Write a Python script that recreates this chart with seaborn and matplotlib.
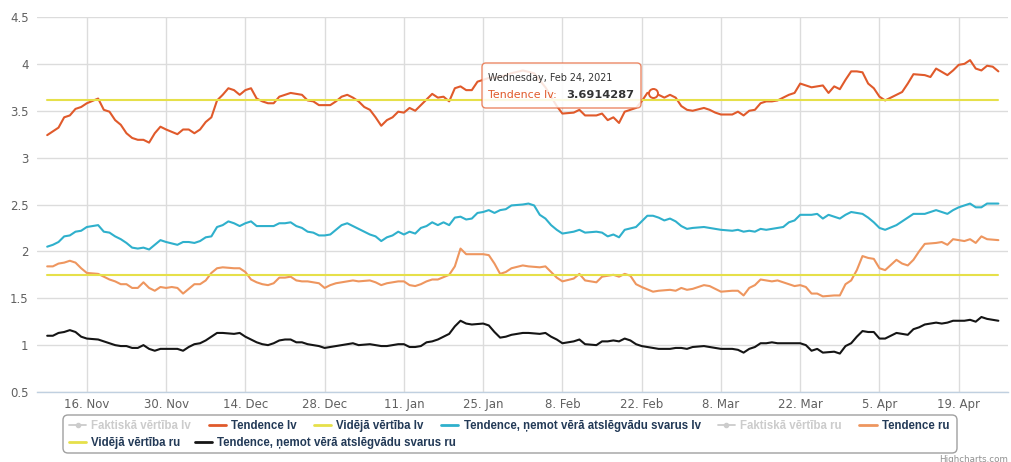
import numpy as np
import pandas as pd
import matplotlib
matplotlib.use('Agg')
import matplotlib.pyplot as plt
from matplotlib.lines import Line2D
from matplotlib.patches import FancyBboxPatch
from matplotlib.transforms import IdentityTransform
from matplotlib.ticker import FuncFormatter
import seaborn as sns

# days are counted from the first point, 9 Nov 2020
start = pd.Timestamp('2020-11-09')

lv_days = [0, 2, 3, 4, 5, 6, 7, 9, 10, 11,
           12, 13, 14, 15, 16, 17, 18, 19, 20, 21,
           23, 24, 25, 26, 27, 28, 29, 30, 31, 32,
           33, 34, 35, 36, 37, 38, 39, 40, 41, 42,
           43, 44, 45, 46, 47, 48, 49, 50, 51, 52,
           53, 54, 55, 56, 57, 58, 59, 60, 61, 62,
           63, 64, 65, 66, 67, 68, 69, 70, 71, 72,
           73, 74, 75, 76, 78, 80, 82, 84, 86, 88,
           90, 91, 93, 94, 95, 97, 98, 99, 100, 101,
           102, 104, 105, 106, 107, 108, 109, 110, 111, 112,
           113, 114, 116, 117, 118, 119, 121, 122, 123, 124,
           125, 126, 127, 128, 129, 131, 132, 133, 135, 136,
           137, 138, 139, 140, 141, 142, 143, 144, 145, 146,
           147, 148, 150, 151, 152, 153, 155, 156, 157, 159,
           160, 161, 162, 163, 164, 165, 166, 167, 168]
trend_lv = [3.24, 3.32, 3.43, 3.45, 3.52, 3.54, 3.58, 3.63, 3.51, 3.49,
            3.40, 3.35, 3.26, 3.21, 3.19, 3.19, 3.16, 3.26, 3.33, 3.30,
            3.25, 3.30, 3.30, 3.26, 3.30, 3.38, 3.43, 3.61, 3.67, 3.74,
            3.72, 3.67, 3.72, 3.74, 3.63, 3.60, 3.58, 3.58, 3.65, 3.67,
            3.69, 3.68, 3.67, 3.61, 3.60, 3.56, 3.56, 3.56, 3.60, 3.65,
            3.67, 3.64, 3.60, 3.54, 3.51, 3.43, 3.34, 3.40, 3.43, 3.49,
            3.48, 3.53, 3.50, 3.56, 3.62, 3.68, 3.64, 3.65, 3.60, 3.74,
            3.76, 3.72, 3.72, 3.81, 3.85, 3.86, 3.90, 3.93, 3.90, 3.75,
            3.55, 3.47, 3.48, 3.51, 3.45, 3.45, 3.47, 3.40, 3.43, 3.37,
            3.49, 3.53, 3.60, 3.69, 3.69, 3.67, 3.64, 3.67, 3.64, 3.55,
            3.51, 3.50, 3.53, 3.51, 3.48, 3.46, 3.46, 3.49, 3.45, 3.50,
            3.51, 3.58, 3.60, 3.60, 3.61, 3.67, 3.69, 3.79, 3.75, 3.76,
            3.77, 3.69, 3.76, 3.73, 3.83, 3.92, 3.92, 3.91, 3.79, 3.74,
            3.65, 3.61, 3.67, 3.70, 3.79, 3.89, 3.88, 3.86, 3.95, 3.88,
            3.93, 3.99, 4.00, 4.04, 3.95, 3.93, 3.98, 3.97, 3.92]

w_days = [0, 1, 2, 3, 4, 5, 6, 7, 9, 10,
          11, 12, 13, 14, 15, 16, 17, 18, 19, 20,
          21, 23, 24, 25, 26, 27, 28, 29, 30, 31,
          32, 33, 34, 35, 36, 37, 38, 39, 40, 41,
          42, 43, 44, 45, 46, 47, 48, 49, 50, 51,
          52, 53, 54, 55, 56, 57, 58, 59, 60, 61,
          62, 63, 64, 65, 66, 67, 68, 69, 70, 71,
          72, 73, 74, 75, 76, 77, 78, 79, 80, 81,
          82, 84, 85, 86, 87, 88, 89, 90, 91, 93,
          94, 95, 97, 98, 99, 100, 101, 102, 104, 105,
          106, 107, 108, 109, 110, 111, 112, 113, 114, 116,
          117, 118, 119, 121, 122, 123, 124, 125, 126, 127,
          128, 130, 131, 132, 133, 135, 136, 137, 138, 140,
          141, 142, 143, 144, 145, 146, 147, 148, 150, 151,
          152, 153, 155, 156, 157, 159, 160, 161, 163, 164,
          165, 166, 167, 168]
weighted_lv = [2.05, 2.07, 2.10, 2.16, 2.17, 2.21, 2.22, 2.26, 2.28, 2.21,
               2.20, 2.16, 2.13, 2.09, 2.04, 2.03, 2.04, 2.02, 2.07, 2.12,
               2.10, 2.07, 2.10, 2.10, 2.09, 2.11, 2.15, 2.16, 2.26, 2.28,
               2.32, 2.30, 2.27, 2.30, 2.32, 2.27, 2.27, 2.27, 2.27, 2.30,
               2.30, 2.31, 2.27, 2.25, 2.21, 2.20, 2.17, 2.17, 2.18, 2.23,
               2.28, 2.30, 2.27, 2.24, 2.21, 2.18, 2.16, 2.11, 2.15, 2.17,
               2.21, 2.18, 2.21, 2.19, 2.25, 2.27, 2.31, 2.28, 2.31, 2.28,
               2.36, 2.37, 2.34, 2.35, 2.41, 2.42, 2.44, 2.41, 2.44, 2.45,
               2.49, 2.50, 2.51, 2.49, 2.39, 2.35, 2.28, 2.23, 2.19, 2.21,
               2.23, 2.20, 2.21, 2.20, 2.16, 2.18, 2.15, 2.23, 2.26, 2.32,
               2.38, 2.38, 2.36, 2.33, 2.35, 2.32, 2.27, 2.24, 2.25, 2.26,
               2.25, 2.24, 2.23, 2.22, 2.23, 2.21, 2.22, 2.21, 2.24, 2.23,
               2.24, 2.26, 2.31, 2.33, 2.39, 2.39, 2.40, 2.35, 2.39, 2.35,
               2.39, 2.42, 2.41, 2.40, 2.36, 2.31, 2.25, 2.23, 2.28, 2.32,
               2.36, 2.40, 2.40, 2.42, 2.44, 2.40, 2.44, 2.47, 2.51, 2.47,
               2.47, 2.51, 2.51, 2.51]

ru_days = [0, 1, 2, 3, 4, 5, 6, 7, 9, 10,
           11, 12, 13, 14, 15, 16, 17, 18, 19, 20,
           21, 22, 23, 24, 25, 26, 27, 28, 29, 30,
           31, 33, 34, 35, 36, 37, 38, 39, 40, 41,
           42, 43, 44, 45, 46, 48, 49, 50, 51, 53,
           54, 55, 57, 58, 59, 60, 62, 63, 64, 65,
           66, 67, 68, 69, 71, 72, 73, 74, 75, 77,
           78, 79, 80, 81, 82, 84, 85, 87, 88, 89,
           90, 91, 93, 94, 95, 97, 98, 99, 100, 101,
           102, 103, 104, 105, 107, 108, 110, 111, 112, 113,
           114, 116, 117, 118, 119, 121, 122, 123, 124, 125,
           126, 127, 128, 129, 130, 132, 133, 134, 135, 136,
           137, 139, 140, 141, 142, 143, 144, 145, 146, 147,
           148, 150, 151, 152, 153, 154, 155, 157, 158, 159,
           160, 161, 162, 163, 164, 165, 166, 168]
trend_ru = [1.84, 1.84, 1.87, 1.88, 1.90, 1.88, 1.82, 1.77, 1.76, 1.73,
            1.70, 1.68, 1.65, 1.65, 1.61, 1.61, 1.67, 1.61, 1.58, 1.62,
            1.61, 1.62, 1.61, 1.55, 1.60, 1.65, 1.65, 1.69, 1.77, 1.82,
            1.83, 1.82, 1.82, 1.78, 1.70, 1.67, 1.65, 1.64, 1.66, 1.72,
            1.72, 1.73, 1.69, 1.68, 1.68, 1.66, 1.61, 1.64, 1.66, 1.68,
            1.69, 1.68, 1.69, 1.67, 1.64, 1.66, 1.68, 1.68, 1.64, 1.63,
            1.65, 1.68, 1.70, 1.70, 1.75, 1.84, 2.03, 1.97, 1.97, 1.97,
            1.96, 1.87, 1.76, 1.78, 1.82, 1.85, 1.84, 1.83, 1.84, 1.78,
            1.72, 1.68, 1.71, 1.76, 1.69, 1.67, 1.73, 1.74, 1.75, 1.73,
            1.76, 1.74, 1.65, 1.62, 1.57, 1.58, 1.59, 1.58, 1.61, 1.59,
            1.60, 1.64, 1.63, 1.60, 1.57, 1.58, 1.58, 1.53, 1.61, 1.64,
            1.70, 1.69, 1.68, 1.69, 1.67, 1.63, 1.64, 1.62, 1.55, 1.55,
            1.52, 1.53, 1.53, 1.65, 1.69, 1.80, 1.95, 1.93, 1.92, 1.82,
            1.80, 1.91, 1.87, 1.85, 1.91, 2.00, 2.08, 2.09, 2.10, 2.07,
            2.13, 2.12, 2.11, 2.13, 2.09, 2.16, 2.13, 2.12]
weighted_ru = [1.10, 1.10, 1.13, 1.14, 1.16, 1.14, 1.09, 1.07, 1.06, 1.04,
               1.02, 1.00, 0.99, 0.99, 0.97, 0.97, 1.00, 0.96, 0.94, 0.96,
               0.96, 0.96, 0.96, 0.94, 0.98, 1.01, 1.02, 1.05, 1.09, 1.13,
               1.13, 1.12, 1.13, 1.09, 1.06, 1.03, 1.01, 1.00, 1.02, 1.05,
               1.06, 1.06, 1.03, 1.03, 1.01, 0.99, 0.97, 0.98, 0.99, 1.01,
               1.02, 1.00, 1.01, 1.00, 0.99, 0.99, 1.01, 1.01, 0.98, 0.98,
               0.99, 1.03, 1.04, 1.06, 1.12, 1.20, 1.26, 1.23, 1.22, 1.23,
               1.21, 1.14, 1.08, 1.09, 1.11, 1.13, 1.13, 1.12, 1.13, 1.09,
               1.06, 1.02, 1.04, 1.06, 1.01, 1.00, 1.04, 1.04, 1.05, 1.04,
               1.07, 1.05, 1.01, 0.99, 0.97, 0.96, 0.96, 0.97, 0.97, 0.96,
               0.98, 0.99, 0.98, 0.97, 0.96, 0.96, 0.95, 0.92, 0.96, 0.98,
               1.02, 1.02, 1.03, 1.02, 1.02, 1.02, 1.02, 1.00, 0.94, 0.96,
               0.92, 0.93, 0.91, 0.99, 1.02, 1.09, 1.15, 1.14, 1.14, 1.07,
               1.07, 1.13, 1.12, 1.11, 1.17, 1.19, 1.22, 1.24, 1.23, 1.24,
               1.26, 1.26, 1.26, 1.27, 1.25, 1.30, 1.28, 1.26]

mean_lv = 3.62
mean_ru = 1.75

tip_day = 107
tip_value = 3.6914287

y_ticks = [0.5, 1, 1.5, 2, 2.5, 3, 3.5, 4, 4.5]
tick_dates = pd.date_range('2020-11-16', periods=12, freq='14D')

labels = ['Faktiskā vērtība lv', 'Tendence lv', 'Vidējā vērtība lv',
          'Tendence, ņemot vērā atslēgvādu svarus lv', 'Faktiskā vērtība ru',
          'Tendence ru', 'Vidējā vērtība ru',
          'Tendence, ņemot vērā atslēgvādu svarus ru']
hidden = [True, False, False, False, True, False, False, False]

c_red = '#e05a2b'
c_yel = '#e6e04a'
c_cyan = '#2fb0cc'
c_orng = '#ee965f'
c_blk = '#151515'
c_off = '#cccccc'
colors = [c_off, c_red, c_yel, c_cyan, c_off, c_orng, c_yel, c_blk]


def to_dates(days):
    return start + pd.to_timedelta(days, unit='D')


W, H = 1011, 462


def fx(x):
    return x / W


def fy(y):
    return 1 - y / H


sns.set_theme(style='white')
plt.rcParams['font.family'] = ['DejaVu Sans']

fig = plt.figure(figsize=(W / 100, H / 100), dpi=100)
ax = fig.add_axes([fx(37), fy(392), fx(1008) - fx(37), fy(17) - fy(392)])

lw = 1.5
kw = dict(ax=ax, linewidth=lw, legend=False, solid_joinstyle='round', solid_capstyle='round')

sns.lineplot(x=to_dates(lv_days), y=trend_lv, color=c_red, **kw)
end_days = [0, 168]
sns.lineplot(x=to_dates(end_days), y=[mean_lv] * 2, color=c_yel, **kw)
sns.lineplot(x=to_dates(w_days), y=weighted_lv, color=c_cyan, **kw)
sns.lineplot(x=to_dates(ru_days), y=trend_ru, color=c_orng, **kw)
sns.lineplot(x=to_dates(end_days), y=[mean_ru] * 2, color=c_yel, **kw)
sns.lineplot(x=to_dates(ru_days), y=weighted_ru, color=c_blk, **kw)

# hover marker on the tooltip point
ax.plot(to_dates([tip_day]), [tip_value], 'o', ms=6.5, mfc='white', mec=c_red, mew=1.4, zorder=5)

ax.set_xlim(start - pd.Timedelta(days=1.8), start + pd.Timedelta(days=169.7))
ax.set_ylim(0.5, 4.5)
ax.set_yticks(y_ticks)
ax.set_xticks(tick_dates)
ax.xaxis.set_major_formatter(FuncFormatter(
    lambda v, p: '{}. {}'.format(matplotlib.dates.num2date(v).day,
                                 matplotlib.dates.num2date(v).strftime('%b'))))
ax.yaxis.set_major_formatter(FuncFormatter(lambda v, p: '{:g}'.format(v)))
ax.grid(True, color='#dcdcdc', linewidth=1)
ax.set_axisbelow(True)
for s in ['top', 'left', 'right']:
    ax.spines[s].set_visible(False)
ax.spines['bottom'].set_color('#c0d0e0')
ax.spines['bottom'].set_linewidth(1)
ax.tick_params(axis='both', length=0, labelsize=8.5, labelcolor='#606060')
ax.tick_params(axis='x', pad=4)
ax.tick_params(axis='y', pad=6)
ax.set_xlabel('')
ax.set_ylabel('')

# tooltip
tip_box = FancyBboxPatch((482, H - 108), 159, 45, boxstyle='round,pad=0,rounding_size=4',
                         transform=IdentityTransform(), facecolor='white', alpha=0.85,
                         edgecolor='#e8734a', linewidth=1, zorder=10)
fig.patches.append(tip_box)
fig.text(fx(488), fy(78), 'Wednesday, Feb 24, 2021', fontsize=6.9, color='#333333',
         ha='left', va='center', zorder=11)
fig.text(fx(488), fy(95.5), 'Tendence lv:', fontsize=7.9, color=c_red,
         ha='left', va='center', zorder=11)
fig.text(fx(566), fy(95.5), '3.6914287', fontsize=8.2, color='#333333', fontweight='bold',
         ha='left', va='center', zorder=11)

# legend
handles = []
for col, off in zip(colors, hidden):
    if off:
        handles.append(Line2D([], [], color=col, lw=1.3, marker='o', ms=3))
    else:
        handles.append(Line2D([], [], color=col, lw=2))
text_cols = [c_off if off else '#233a57' for off in hidden]
lfont = {'family': 'Liberation Sans', 'weight': 'bold', 'size': 8.3}

leg1 = fig.legend(handles[:6], labels[:6], loc='center left', bbox_to_anchor=(fx(69), fy(426)),
                  ncol=6, frameon=False, prop=lfont, labelcolor=text_cols[:6],
                  handlelength=1.5, handletextpad=0.45, columnspacing=1.5,
                  borderpad=0, borderaxespad=0)
leg2 = fig.legend(handles[6:], labels[6:], loc='center left', bbox_to_anchor=(fx(69), fy(443)),
                  ncol=2, frameon=False, prop=lfont, labelcolor=text_cols[6:],
                  handlelength=1.5, handletextpad=0.45, columnspacing=1.2,
                  borderpad=0, borderaxespad=0)
leg_box = FancyBboxPatch((63, H - 453), 894, 38, boxstyle='round,pad=0,rounding_size=5',
                         transform=IdentityTransform(), facecolor='none',
                         edgecolor='#a0a0a0', linewidth=1)
fig.patches.append(leg_box)

fig.text(fx(1008), fy(459), 'Highcharts.com', fontsize=6.3, color='#909090',
         ha='right', va='center')

fig.savefig('out.png', dpi=100)
